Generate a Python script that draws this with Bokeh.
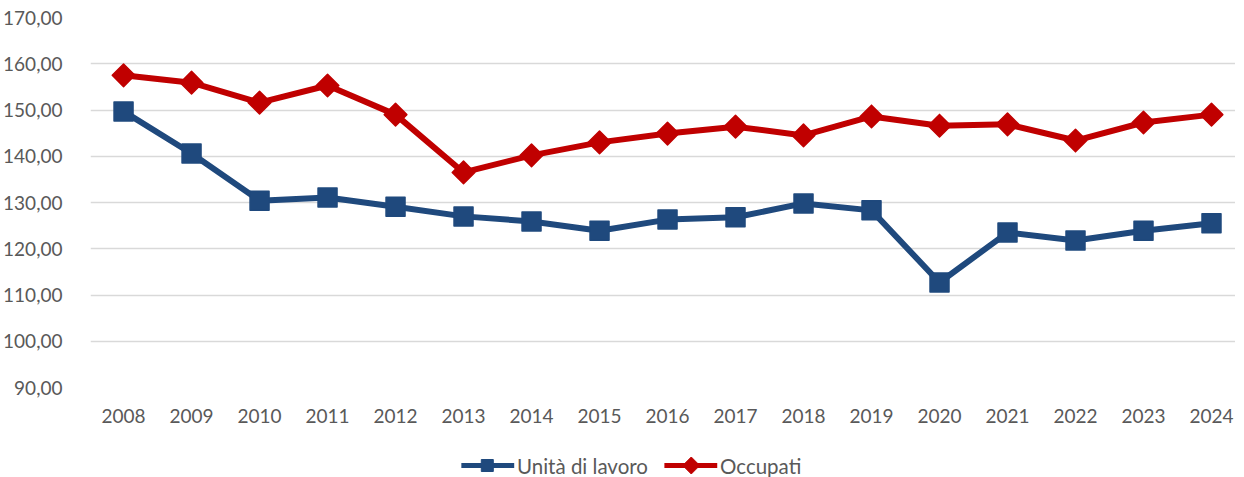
import math
from bokeh.plotting import figure
from bokeh.layouts import column
from bokeh.models import CustomJSTickFormatter, FixedTicker, Range1d
from bokeh.core.properties import value
from bokeh.embed import file_html
from bokeh.resources import INLINE

years = list(range(2008, 2025))
unita_lavoro = [149.7, 140.6, 130.4, 131.1, 129.1, 127.0, 125.9, 123.9, 126.3, 126.8,
                129.8, 128.3, 112.7, 123.5, 121.8, 123.9, 125.5]
occupati = [157.5, 155.9, 151.6, 155.3, 149.0, 136.5, 140.2, 143.0, 144.9, 146.4,
            144.5, 148.6, 146.6, 146.9, 143.4, 147.3, 149.0]
y_ticks = [90, 100, 110, 120, 130, 140, 150, 160, 170]
series_labels = ["Unità di lavoro", "Occupati"]

BLUE = "#1F497D"
RED = "#C00000"
TXT = "#595959"
FONT = "Lato"
W = 1235

p = figure(width=W, height=440, output_backend="svg", toolbar_location=None,
           x_range=Range1d(2007.514, 2024.353), y_range=Range1d(90, 170),
           min_border_left=87, min_border_right=0, min_border_top=17, min_border_bottom=53)
p.outline_line_color = None
p.background_fill_color = "white"

p.xgrid.grid_line_color = None
p.ygrid.grid_line_color = "#D9D9D9"
p.ygrid.grid_line_width = 1.5
p.yaxis.ticker = FixedTicker(ticks=y_ticks)
p.xaxis.ticker = FixedTicker(ticks=years)
p.yaxis.formatter = CustomJSTickFormatter(code="return tick.toFixed(2).replace('.', ',');")
p.xaxis.formatter = CustomJSTickFormatter(code="return tick.toFixed(0);")

for ax in (p.xaxis, p.yaxis):
    ax.axis_line_color = None
    ax.major_tick_line_color = None
    ax.minor_tick_line_color = None
    ax.major_label_text_font = FONT
    ax.major_label_text_font_size = "19px"
    ax.major_label_text_color = TXT
p.yaxis.major_label_standoff = 22
p.xaxis.major_label_standoff = 15

p.line(years, unita_lavoro, line_color=BLUE, line_width=6)
p.scatter(years, unita_lavoro, marker="square", size=19, fill_color=BLUE,
          line_color=BLUE, line_width=1.5, line_join="round")
p.line(years, occupati, line_color=RED, line_width=6)
p.scatter(years, occupati, marker="square", size=16, angle=math.pi / 4,
          fill_color=RED, line_color=RED, line_width=1.5, line_join="round")

# legend strip (pixel coordinates)
LH = 37
lg = figure(width=W, height=LH, output_backend="svg", toolbar_location=None,
            x_range=Range1d(0, W), y_range=Range1d(0, LH),
            min_border=0, min_border_left=0, min_border_right=0,
            min_border_top=0, min_border_bottom=0,
            x_axis_type=None, y_axis_type=None)
lg.outline_line_color = None
lg.xgrid.visible = False
lg.ygrid.visible = False
yc = 12
bx = 400
rx = 619
lg.line([bx, bx + 57], [yc, yc], line_color=BLUE, line_width=5)
lg.scatter([bx + 28], [yc], marker="square", size=12, fill_color=BLUE, line_color=BLUE,
           line_width=1, line_join="round")
lg.text([bx + 60], [yc], text=[series_labels[0]], text_font=value(FONT), text_font_size="20.5px",
        text_color=TXT, text_baseline="middle", text_align="left")
lg.line([rx, rx + 57], [yc, yc], line_color=RED, line_width=5)
lg.scatter([rx + 29], [yc], marker="square", size=12, angle=math.pi / 4, fill_color=RED,
           line_color=RED, line_width=1, line_join="round")
lg.text([rx + 60], [yc], text=[series_labels[1]], text_font=value(FONT), text_font_size="20.5px",
        text_color=TXT, text_baseline="middle", text_align="left")

layout = column(p, lg, spacing=0)
open("out.html", "w").write(file_html(layout, INLINE))
